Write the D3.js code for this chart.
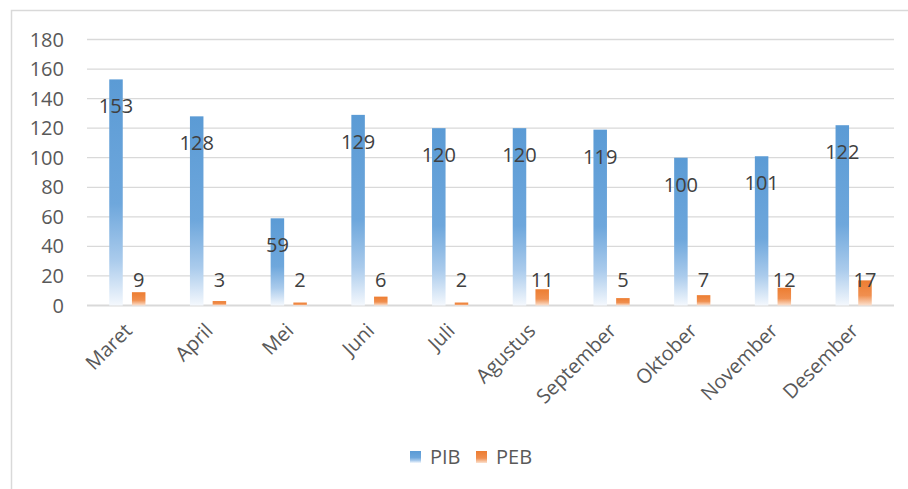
<!DOCTYPE html>
<html lang="en">
	<head>
		<meta charset="utf-8">
		<title>PIB PEB</title>
		<script type="text/javascript" src="https://d3js.org/d3.v7.min.js"></script>
		<style type="text/css">
			body {
				margin: 0;
				background: #fff;
			}
			svg text {
				font-family: "Open Sans", sans-serif;
			}
			.tick-label {
				font-size: 20px;
				fill: #595959;
			}
			.val-label {
				font-size: 20px;
				fill: #404040;
			}
		</style>
	</head>
	<body>
		<div id="chart"></div>

		<script type="text/javascript">
			const months = ["Maret", "April", "Mei", "Juni", "Juli", "Agustus", "September", "Oktober", "November", "Desember"];
			const series = ["PIB", "PEB"];
			const pib = [153, 128, 59, 129, 120, 120, 119, 100, 101, 122];
			const peb = [9, 3, 2, 6, 2, 11, 5, 7, 12, 17];
			const yTicks = [0, 20, 40, 60, 80, 100, 120, 140, 160, 180];

			const w = 908,
				  h = 489,
				  plotLeft = 87,
				  plotRight = 894,
				  plotTop = 39.5,
				  plotBottom = 305.5;

			const svg = d3.select("#chart")
						.append("svg")
						.attr("width", w)
						.attr("height", h);

			// gradients (Excel style fade to white at the base)
			const defs = svg.append("defs");
			const grad = function(id, stops){
				const g = defs.append("linearGradient")
					.attr("id", id)
					.attr("x1", 0).attr("y1", 0)
					.attr("x2", 0).attr("y2", 1);
				stops.forEach(s => g.append("stop")
					.attr("offset", s[0])
					.attr("stop-color", s[1]));
			}
			grad("gPIB", [[0, "#5B9BD5"], [0.55, "#6ea7dc"], [0.8, "#aacbec"], [1, "#f4f8fd"]]);
			grad("gPEB", [[0, "#ED7D31"], [0.6, "#f08f4f"], [1, "#fbe1cf"]]);

			// outer frame (only left and top edges are visible)
			svg.append("path")
				.attr("d", "M11.5," + h + "V10.5H" + w)
				.attr("fill", "none")
				.attr("stroke", "#d9d9d9")
				.attr("stroke-width", 1.5);

			const x0 = d3.scaleBand()
						.domain(months)
						.range([plotLeft, plotRight])
						.paddingInner(0);

			const x1 = d3.scaleBand()
						.domain(series)
						.range([x0.bandwidth() / 2 - 18.1, x0.bandwidth() / 2 + 18.1])
						.paddingInner(0.405);

			const yScale = d3.scaleLinear()
						.domain([0, 180])
						.range([plotBottom, plotTop]);

			// gridlines
			svg.append("g")
				.selectAll("line")
				.data(yTicks)
				.enter()
				.append("line")
				.attr("x1", plotLeft)
				.attr("x2", plotRight)
				.attr("y1", d => yScale(d))
				.attr("y2", d => yScale(d))
				.attr("stroke", "#d9d9d9")
				.attr("stroke-width", d => d === 0 ? 2 : 1.3);

			// y tick labels
			svg.append("g")
				.selectAll("text")
				.data(yTicks)
				.enter()
				.append("text")
				.attr("class", "tick-label")
				.attr("text-anchor", "end")
				.attr("x", 64)
				.attr("y", d => yScale(d))
				.attr("dy", "0.35em")
				.text(d => d);

			// x labels rotated
			svg.append("g")
				.selectAll("text")
				.data(months)
				.enter()
				.append("text")
				.attr("class", "tick-label")
				.attr("text-anchor", "end")
				.attr("transform", d => "translate(" + (x0(d) + x0.bandwidth() / 2 + 6) + ",332) rotate(-45)")
				.text(d => d);

			const rows = months.map((m, i) => ({month: m, PIB: pib[i], PEB: peb[i]}));

			const groups = svg.append("g")
				.selectAll("g")
				.data(rows)
				.enter()
				.append("g")
				.attr("transform", d => "translate(" + x0(d.month) + ",0)");

			groups.selectAll("rect")
				.data(d => series.map(s => ({key: s, value: d[s]})))
				.enter()
				.append("rect")
				.attr("x", d => x1(d.key))
				.attr("y", d => yScale(d.value))
				.attr("width", x1.bandwidth())
				.attr("height", d => yScale(0) - yScale(d.value))
				.attr("fill", d => "url(#g" + d.key + ")");

			// value labels: PIB inside end, PEB near the base
			groups.selectAll("text")
				.data(d => series.map(s => ({key: s, value: d[s]})))
				.enter()
				.append("text")
				.attr("class", "val-label")
				.attr("text-anchor", "middle")
				.attr("x", d => x1(d.key) + x1.bandwidth() / 2)
				.attr("y", d => d.key === "PIB" ? yScale(d.value) + 27 : yScale(0) - 26)
				.attr("dy", "0.35em")
				.text(d => d.value);

			// legend
			const legend = svg.append("g")
				.selectAll("g")
				.data(series)
				.enter()
				.append("g")
				.attr("transform", (d, i) => "translate(" + (410 + i * 66) + ",451)");

			legend.append("rect")
				.attr("width", 11)
				.attr("height", 12)
				.attr("fill", d => "url(#g" + d + ")");

			legend.append("text")
				.attr("class", "tick-label")
				.attr("x", 20)
				.attr("y", 6)
				.attr("dy", "0.35em")
				.text(d => d);
		</script>
	</body>
</html>
